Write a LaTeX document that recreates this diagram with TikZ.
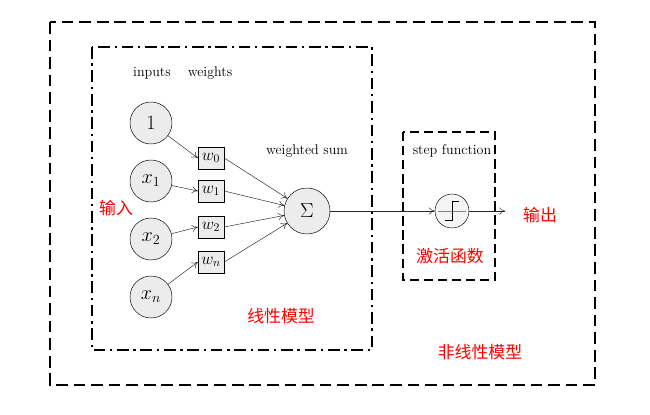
\documentclass[tikz,border=0pt]{standalone}
\usepackage{fontspec}
\newfontfamily\cjk{Noto Sans CJK SC}
\usetikzlibrary{arrows.meta}
\tikzset{
  inp/.style={circle, draw, fill=gray!15, minimum size=42*0.03cm, inner sep=0pt, font=\LARGE},
  wgt/.style={draw, fill=gray!15, minimum width=26*0.03cm, minimum height=22*0.03cm, inner sep=0pt, font=\Large},
  lbl/.style={font=\large},
  cn/.style={text=red, font=\cjk\Large},
  conn/.style={-{To[length=5pt,width=6pt]}, gray!30!black},
}
\begin{document}
\begin{tikzpicture}[x=0.03cm, y=-0.03cm]
  \useasboundingbox (0,0) rectangle (650,414);

  % Boxes
  \draw[line width=1.8pt, dash pattern=on 10pt off 5pt] (50,22) rectangle (595,385);
  \draw[line width=1.8pt, dash pattern=on 10pt off 4pt on 2pt off 4pt] (92,47) rectangle (372,350);
  \draw[line width=1.8pt, dash pattern=on 8pt off 4pt] (403,132) rectangle (495,280);

  % Define nodes
  \node[inp] (i0) at (151,123) {$1$};
  \node[inp] (i1) at (151,181) {$x_1$};
  \node[inp] (i2) at (151,239) {$x_2$};
  \node[inp] (in) at (151,297) {$x_n$};
  \node[wgt] (w0) at (211,158) {$w_0$};
  \node[wgt] (w1) at (211,191) {$w_1$};
  \node[wgt] (w2) at (211,227) {$w_2$};
  \node[wgt] (wn) at (211,262) {$w_n$};
  \node[inp, minimum size=46*0.03cm] (sum) at (307,211) {$\Sigma$};
  \node[circle, draw, fill=gray!8, minimum size=34*0.03cm] (step) at (452,211) {};
  \draw[gray] ([xshift=-12pt]step.center) -- ([xshift=12pt]step.center);
  \draw[thick] ([xshift=-6pt,yshift=-8pt]step.center) -- ([xshift=0pt,yshift=-8pt]step.center)
    -- ([yshift=8pt]step.center) -- ([xshift=6pt,yshift=8pt]step.center);
  \coordinate (out) at (505,211);

  % Labels
  \node[lbl] (tin) at (152,73) {inputs};
  \node[lbl] (tw) at (210,73) {weights};
  \node[lbl] (tsum) at (307,151) {weighted sum};
  \node[lbl] (tstep) at (452,151) {step function};
  \node[cn] (cin) at (116,208) {输入};
  \node[cn] (cout) at (540,215) {输出};
  \node[cn] (cact) at (450,256) {激活函数};
  \node[cn] (clin) at (281,316) {线性模型};
  \node[cn] (cnl) at (480,352) {非线性模型};

  % Connect the nodes
  \foreach \a/\b in {i0/w0, i1/w1, i2/w2, in/wn} {
    \draw[conn] (\a) -- (\b.west);
  }
  \foreach \w in {w0, w1, w2, wn} {
    \draw[conn] (\w.east) -- (sum);
  }
  \draw[conn] (sum) -- (step);
  \draw[conn] (step) -- (out);
\end{tikzpicture}
\end{document}
